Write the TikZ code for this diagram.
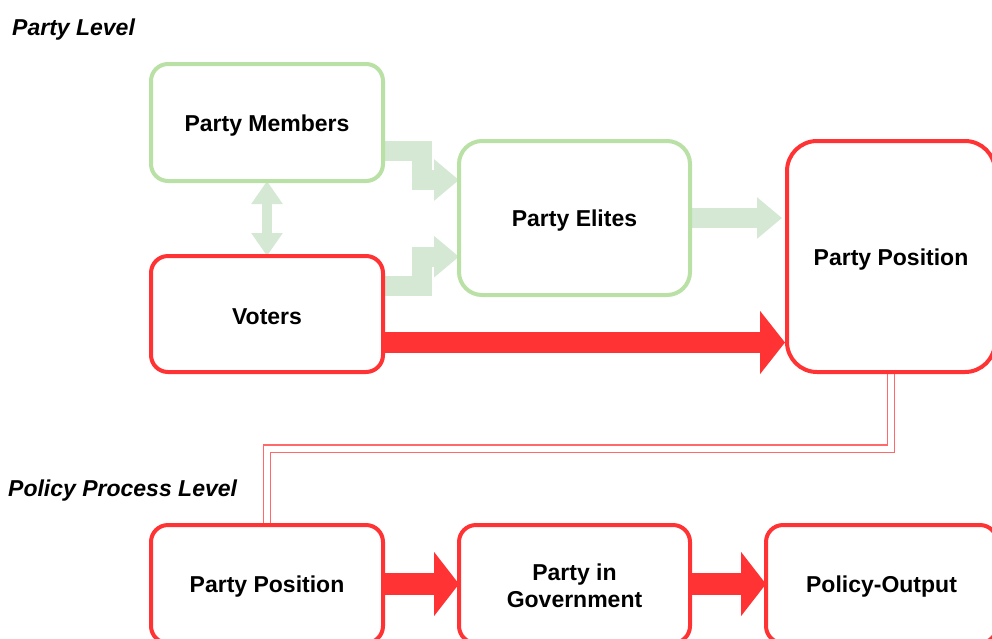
\documentclass[tikz,border=0pt]{standalone}
\usepackage{fontspec}
\setmainfont{Liberation Sans}
\usetikzlibrary{arrows.meta,calc}
\definecolor{rd}{HTML}{FF3333}
\definecolor{gstroke}{HTML}{B9E0A5}
\definecolor{gfill}{HTML}{D5E8D4}
\definecolor{lnk}{RGB}{255,105,105}
\tikzset{
  box/.style={draw, line width=4pt, fill=white, inner sep=0pt, outer sep=0pt},
  redbox/.style={box, draw=rd},
  greenbox/.style={box, draw=gstroke},
  txt/.style={inner sep=0pt, align=center, font=\fontsize{23}{27}\selectfont\bfseries},
  lvl/.style={anchor=west, inner sep=0pt, font=\fontsize{23}{27}\selectfont\bfseries\itshape},
  garrow/.style={draw=gfill, line width=20pt, line join=miter, line cap=butt,
    -{Triangle[length=25pt,width=40pt]}},
  gdouble/.style={draw=gfill, line width=10pt,
    {Triangle[length=23pt,width=30pt]}-{Triangle[length=23pt,width=30pt]}},
  rarrow/.style={draw=rd, line width=21pt, -{Triangle[length=25pt,width=62pt]}},
  rarrowb/.style={draw=rd, line width=22pt, -{Triangle[length=25pt,width=63pt]}},
  linkline/.style={draw=lnk, line width=1.3pt, double=white, double distance=6pt, line join=miter},
}
\begin{document}
\begin{tikzpicture}[x=1pt,y=-1pt]
\useasboundingbox (0,0) rectangle (992,638);
% node centres
\coordinate (cmem) at (267,122.5);
\coordinate (cvot) at (267,314);
\coordinate (celi) at (574.5,218);
\coordinate (cpp1) at (891,256.5);
\coordinate (cpp2) at (267,584);
\coordinate (cgov) at (574.5,584);
\coordinate (cout) at (881.5,584);
% invisible anchor nodes for connectors
\node[minimum width=232pt, minimum height=117pt, inner sep=0pt, outer sep=0pt] (mem) at (cmem) {};
\node[minimum width=232pt, minimum height=116pt, inner sep=0pt, outer sep=0pt] (vot) at (cvot) {};
\node[minimum width=231pt, minimum height=154pt, inner sep=0pt, outer sep=0pt] (eli) at (celi) {};
\node[minimum width=208pt, minimum height=231pt, inner sep=0pt, outer sep=0pt] (pp1) at (cpp1) {};
\node[minimum width=232pt, minimum height=118pt, inner sep=0pt, outer sep=0pt] (pp2) at (cpp2) {};
\node[minimum width=231pt, minimum height=118pt, inner sep=0pt, outer sep=0pt] (gov) at (cgov) {};
\node[minimum width=231pt, minimum height=118pt, inner sep=0pt, outer sep=0pt] (out) at (cout) {};
% connectors (drawn beneath boxes)
\draw[linkline] (pp1.south) |- ($(pp2.north)+(0,-76.5)$) -- (pp2.north);
\draw[garrow] ($(mem.east)+(0,28.5)$) -- ++(38.7,0) |- ($(eli.west)+(0,-38)$);
\draw[garrow] ($(vot.east)+(0,-28.5)$) -- ++(38.7,0) |- ($(eli.west)+(0,38.7)$);
\coordinate (e1) at ($(pp1.west)+(-5,-38.5)$);
\draw[garrow] (eli.east) -- (eli.east -| e1);
\draw[gdouble] (mem.south) -- (vot.north);
\coordinate (v1) at ($(vot.east)+(0,28.5)$);
\draw[rarrow] (v1) -- ($(v1 -| pp1.west)+(-2,0)$);
\draw[rarrowb] (pp2.east) -- (gov.west);
\draw[rarrowb] (gov.east) -- (out.west);
% boxes
\node[greenbox, rounded corners=17pt, minimum width=232pt, minimum height=117pt] (bmem) at (cmem) {};
\node[redbox, rounded corners=17pt, minimum width=232pt, minimum height=116pt] (bvot) at (cvot) {};
\node[greenbox, rounded corners=23pt, minimum width=231pt, minimum height=154pt] (beli) at (celi) {};
\node[redbox, rounded corners=30pt, minimum width=208pt, minimum height=231pt] (bpp1) at (cpp1) {};
\node[redbox, rounded corners=17pt, minimum width=232pt, minimum height=118pt] (bpp2) at (cpp2) {};
\node[redbox, rounded corners=17pt, minimum width=231pt, minimum height=118pt] (bgov) at (cgov) {};
\node[redbox, rounded corners=17pt, minimum width=231pt, minimum height=118pt] (bout) at (cout) {};
% texts
\node[txt] (tmem) at ($(cmem)+(0,3)$) {Party Members};
\node[txt] (tvot) at ($(cvot)+(0,3)$) {Voters};
\node[txt] (teli) at ($(celi)+(0,3)$) {Party Elites};
\node[txt] (tpp1) at ($(cpp1)+(0,3)$) {Party Position};
\node[txt] (tpp2) at ($(cpp2)+(0,3)$) {Party Position};
\node[txt] (tgov) at ($(cgov)+(0,1.5)$) {Party in\\Government};
\node[txt] (tout) at ($(cout)+(0,3)$) {Policy-Output};
% level labels
\node[lvl] (lv1) at (12,30) {Party Level};
\node[lvl] (lv2) at (8,491) {Policy Process Level};
\end{tikzpicture}
\end{document}
